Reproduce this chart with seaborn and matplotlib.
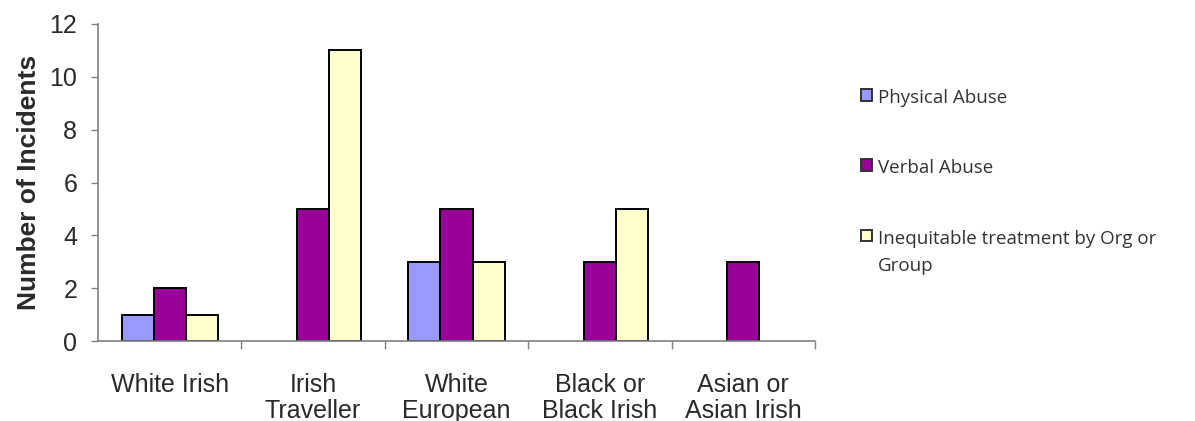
import matplotlib
matplotlib.use("Agg")
import matplotlib.pyplot as plt
import seaborn as sns
import pandas as pd
from matplotlib.ticker import FixedLocator
from matplotlib.patches import Patch

categories = ["White Irish", "Irish\nTraveller", "White\nEuropean", "Black or\nBlack Irish", "Asian or\nAsian Irish"]
series = ["Physical Abuse", "Verbal Abuse", "Inequitable treatment by Org or\nGroup"]
physical = [1, None, 3, None, None]
verbal = [2, 5, 5, 3, 3]
inequitable = [1, 11, 3, 5, None]
colors = ["#9999FF", "#990099", "#FFFFCC"]

rows = []
for name, vals in zip(series, [physical, verbal, inequitable]):
    for cat, v in zip(categories, vals):
        if v is not None:
            rows.append({"category": cat, "type": name, "incidents": v})
df = pd.DataFrame(rows)

sns.set_theme(style="white")
plt.rcParams["font.family"] = ["Liberation Sans", "DejaVu Sans"]

fig = plt.figure(figsize=(11.95, 4.21), dpi=100)
ax = fig.add_axes([0.082, 0.19, 0.600, 0.753])

sns.barplot(data=df, x="category", y="incidents", hue="type",
            order=categories, hue_order=series, palette=colors,
            saturation=1, width=0.67, edgecolor="black", linewidth=1.4,
            legend=False, ax=ax)

ax.set_xlim(-0.5, len(categories) - 0.5)
ax.set_ylim(0, 12)
ax.set_yticks(range(0, 13, 2))
for s in ["top", "right"]:
    ax.spines[s].set_visible(False)
for s in ["left", "bottom"]:
    ax.spines[s].set_color("#808080")
    ax.spines[s].set_linewidth(1.2)

ax.tick_params(axis="y", which="major", direction="out", length=5, width=1,
               color="#808080", left=True, labelsize=18, labelcolor="#2a2a2a", pad=10)
ax.tick_params(axis="x", which="major", length=0, labelsize=18,
               labelcolor="#2a2a2a", pad=23)
ax.xaxis.set_minor_locator(FixedLocator([i + 0.5 for i in range(len(categories))]))
ax.tick_params(axis="x", which="minor", direction="out", length=6, width=1,
               color="#808080", bottom=True)
for lbl in ax.get_xticklabels():
    lbl.set_verticalalignment("top")
    lbl.set_linespacing(1.1)

ax.set_xlabel("")
ax.set_ylabel("Number of Incidents", fontsize=19, fontweight="bold", color="#2a2a2a", labelpad=6)

handles = [Patch(facecolor=c, edgecolor="#333333", linewidth=1.4) for c in colors]
leg = fig.legend(handles, series, loc="upper left", bbox_to_anchor=(0.706, 0.828),
                 frameon=False, handlelength=0.6, handleheight=0.6,
                 handletextpad=0.35, labelspacing=2.78,
                 prop={"family": ["Open Sans", "DejaVu Sans"], "size": 13.5})
for t in leg.get_texts():
    t.set_color("#333333")
    t.set_linespacing(1.7)
# keep each swatch level with the first line of its label
for column in leg._legend_handle_box.get_children():
    for row in column.get_children():
        row.align = "top"

fig.savefig("out.png", dpi=100, facecolor="white")
